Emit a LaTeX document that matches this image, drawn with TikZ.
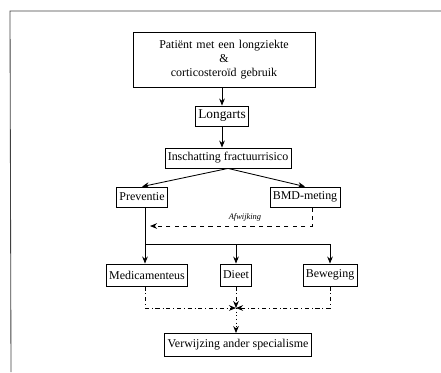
\documentclass[tikz,border=0pt]{standalone}
\usepackage{fontspec}
\setmainfont{Liberation Serif}
\usetikzlibrary{arrows.meta, positioning, calc}

\begin{document}
\begin{tikzpicture}[x=0.25mm, y=-0.25mm, box/.style={draw, semithick,
      fill=white, inner sep=2pt, minimum height=5mm,
      font=\fontsize{8.5pt}{10pt}\selectfont}, flow/.style={semithick,
      -{Stealth[length=5pt, width=4pt]}}, back/.style={flow, dashed},
      merge/.style={flow, dash dot}, refer/.style={flow, dotted} ]

    \useasboundingbox (0,0) rectangle (441,372);

    % Frame
    \draw[semithick, black!75] (11,372) -- (10,11) -- (441,11);

    % Boxes
    \node[box, minimum width=45.5mm, text width=42mm, align=center,
    minimum height=13.75mm] (patient) at (224,60) {Patiënt met een
    longziekte\\ \&\\ corticosteroïd gebruik}; \node[box,
    font=\fontsize{9.5pt}{11pt}\selectfont] (longarts) at (222,116)
    {Longarts}; \node[box] (inschatting) at (228,158) {Inschatting
    fractuurrisico};
    \node[box] (preventie) at (142,197) {Preventie};
    \node[box] (bmd) at (305,197) {BMD-meting};
    \node[box, minimum height=5.5mm] (medic) at (147,275) {Medicamenteus};
    \node[box, minimum height=5.5mm] (dieet) at (236,275) {Dieet};
    \node[box, minimum height=5.5mm] (beweging) at (330,275) {Beweging};
    \node[box, minimum height=5.75mm] (verwijzing) at (238,345) {Verwijzing
    ander specialisme};

    % Helper points
    \coordinate (split) at (145,244); \coordinate (junc) at (236,308);

    % Main flow
    \draw[flow] (patient.south -| longarts) -- (longarts); \draw[flow]
    (longarts) -- (longarts |- inschatting.north); \draw[flow]
    (inschatting.south) -- (preventie.north); \draw[flow] (inschatting.south)
    -- (bmd.north);

    % Feedback from BMD-meting
    \draw[back] ([xshift=5]bmd.south) |- ($(split)+(5,-18)$);
    \node[font=\fontsize{6pt}{7pt}\selectfont\itshape, above] (afw) at
    (245,226) {Afwijking};

    % Treatment branches
    \draw[semithick] (preventie.south -| split) -- (split) -- (split -|
    beweging); \draw[flow] (split) -- (medic.north -| split); \draw[flow]
    (split -| dieet) -- (dieet.north); \draw[flow] (split -| beweging) --
    (beweging.north);

    % Joining to referral
    \draw[merge] (medic.south -| split) |- (junc); \draw[merge]
    (beweging.south) |- (junc); \draw[merge] (dieet.south) -- (junc);
    \draw[refer] (junc) -- (verwijzing.north -| junc);

\end{tikzpicture}
\end{document}
